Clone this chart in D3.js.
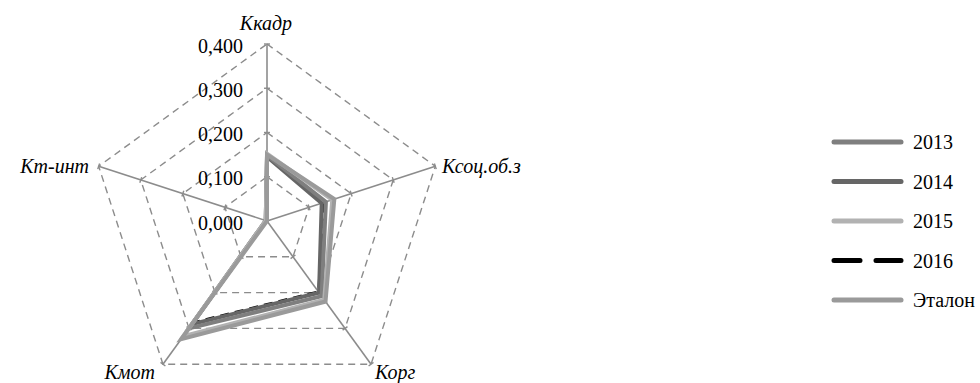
<!DOCTYPE html>
<html>
<head>
<meta charset="utf-8">
<script src="https://d3js.org/d3.v7.min.js"></script>
<style>
  body { margin: 0; background: #fff; }
  svg text { font-family: "Times New Roman", "Liberation Serif", "DejaVu Serif", serif; }
</style>
</head>
<body>
<svg width="980" height="383"></svg>
<script>
// axes (clockwise from top)
var categories = ["Ккадр", "Ксоц.об.з", "Корг", "Кмот", "Кт-инт"];
var tickValues = [0, 0.1, 0.2, 0.3, 0.4];
var tickLabels = ["0,000", "0,100", "0,200", "0,300", "0,400"];

var seriesNames = ["2013", "2014", "2015", "2016", "Эталон"];
var v2013   = [0.148, 0.140, 0.210, 0.300, 0.003];
var v2014   = [0.145, 0.130, 0.200, 0.288, 0.003];
var v2015   = [0.152, 0.155, 0.220, 0.322, 0.003];
var v2016   = [0.147, 0.136, 0.197, 0.283, 0.003];
var vEtalon = [0.150, 0.160, 0.225, 0.330, 0.000];
var seriesValues = [v2013, v2014, v2015, v2016, vEtalon];

var colors = ["#7f7f7f", "#666666", "#b2b2b2", "#000000", "#9a9a9a"];
var drawOrder = [3, 1, 0, 2, 4];

var cx = 267, cy = 221, R = 177;

var svg = d3.select("svg");

var r = d3.scaleLinear().domain([0, 0.4]).range([0, R]);
var angle = d3.scaleBand().domain(categories).range([0, 2 * Math.PI]);

function pt(cat, v) {
  var a = angle(cat);
  return [cx + r(v) * Math.sin(a), cy - r(v) * Math.cos(a)];
}

var g = svg.append("g");

// dashed pentagon grid
tickValues.slice(1).forEach(function(t) {
  var pts = categories.map(function(c) { return pt(c, t); });
  g.append("path")
    .attr("d", d3.line()(pts) + "Z")
    .attr("fill", "none")
    .attr("stroke", "#8c8c8c")
    .attr("stroke-width", 1.4)
    .attr("stroke-dasharray", "7,5");
});

// spokes + tick marks
categories.forEach(function(c) {
  var end = pt(c, 0.4);
  g.append("line")
    .attr("x1", cx).attr("y1", cy)
    .attr("x2", end[0]).attr("y2", end[1])
    .attr("stroke", "#8c8c8c")
    .attr("stroke-width", 1.6);
  var a = angle(c);
  var px = Math.cos(a) * 3, py = Math.sin(a) * 3;
  tickValues.slice(1).forEach(function(t) {
    var p = pt(c, t);
    g.append("line")
      .attr("x1", p[0] - px).attr("y1", p[1] - py)
      .attr("x2", p[0] + px).attr("y2", p[1] + py)
      .attr("stroke", "#8c8c8c")
      .attr("stroke-width", 1.4);
  });
});

// series
var radial = d3.line();
drawOrder.forEach(function(i) {
  var vals = seriesValues[i];
  var pts = categories.map(function(c, j) { return pt(c, vals[j]); });
  g.append("path")
    .attr("d", radial(pts) + "Z")
    .attr("fill", "none")
    .attr("stroke", colors[i])
    .attr("stroke-width", i == 3 ? 2.2 : 4)
    .attr("stroke-linejoin", "miter")
    .attr("stroke-dasharray", i == 3 ? "9,6" : null);
});

// tick labels
tickValues.forEach(function(t, i) {
  g.append("text")
    .attr("x", cx - 24)
    .attr("y", cy - r(t) + 8.5)
    .attr("text-anchor", "end")
    .style("font-size", "20px")
    .attr("fill", "#000")
    .text(tickLabels[i]);
});

// category labels
var labelPos = [
  { x: 266, y: 30, anchor: "middle" },
  { x: 442, y: 173, anchor: "start" },
  { x: 375, y: 379, anchor: "start" },
  { x: 155, y: 379, anchor: "end" },
  { x: 89, y: 173, anchor: "end" }
];
categories.forEach(function(c, i) {
  g.append("text")
    .attr("x", labelPos[i].x)
    .attr("y", labelPos[i].y)
    .attr("text-anchor", labelPos[i].anchor)
    .style("font-size", "20px")
    .style("font-style", "italic")
    .attr("fill", "#000")
    .text(c);
});

// legend
var legend = svg.append("g").attr("transform", "translate(832,142)");
seriesNames.forEach(function(n, i) {
  var y = i * 39.5;
  legend.append("line")
    .attr("x1", 2).attr("x2", 69)
    .attr("y1", y).attr("y2", y)
    .attr("stroke", colors[i])
    .attr("stroke-width", 5)
    .attr("stroke-linecap", "round")
    .attr("stroke-dasharray", i == 3 ? "26,16" : null);
  legend.append("text")
    .attr("x", 81)
    .attr("y", y + 7)
    .style("font-size", "20px")
    .attr("fill", "#000")
    .text(n);
});
</script>
</body>
</html>
